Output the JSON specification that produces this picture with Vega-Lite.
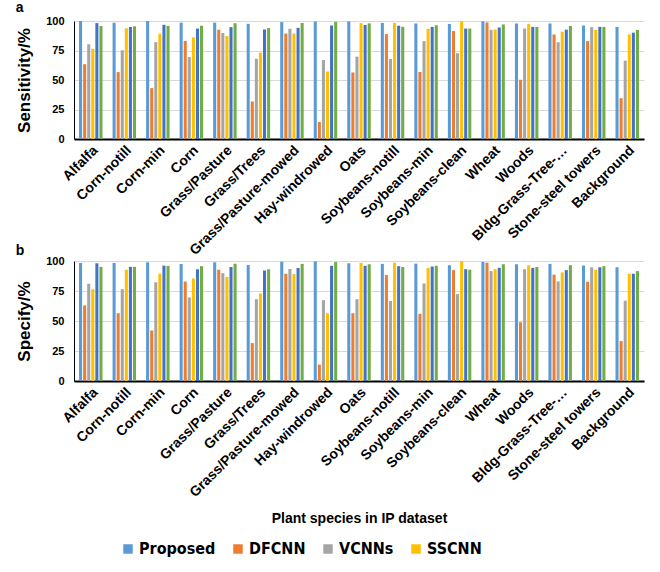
{
  "$schema": "https://vega.github.io/schema/vega-lite/v6.json",
  "padding": {"left": 15, "top": 1, "right": 10, "bottom": 5},
  "background": "white",
  "datasets": {
    "d": [
      {"c": "Alfalfa", "m": "Proposed", "s": 100, "p": 98.4},
      {"c": "Alfalfa", "m": "DFCNN", "s": 63.4, "p": 63},
      {"c": "Alfalfa", "m": "VCNNs", "s": 80.3, "p": 81},
      {"c": "Alfalfa", "m": "SSCNN", "s": 76.4, "p": 76.4},
      {"c": "Alfalfa", "m": "Method5", "s": 98.2, "p": 98.1},
      {"c": "Alfalfa", "m": "Method6", "s": 95.7, "p": 95.1},
      {"c": "Corn-notill", "m": "Proposed", "s": 98.5, "p": 98.4},
      {"c": "Corn-notill", "m": "DFCNN", "s": 56.7, "p": 56.5},
      {"c": "Corn-notill", "m": "VCNNs", "s": 75.2, "p": 76.5},
      {"c": "Corn-notill", "m": "SSCNN", "s": 93.8, "p": 92.7},
      {"c": "Corn-notill", "m": "Method5", "s": 94.9, "p": 95.1},
      {"c": "Corn-notill", "m": "Method6", "s": 95.5, "p": 95.1},
      {"c": "Corn-min", "m": "Proposed", "s": 100, "p": 98.9},
      {"c": "Corn-min", "m": "DFCNN", "s": 43.1, "p": 42.1},
      {"c": "Corn-min", "m": "VCNNs", "s": 82.1, "p": 82.3},
      {"c": "Corn-min", "m": "SSCNN", "s": 89.2, "p": 89.4},
      {"c": "Corn-min", "m": "Method5", "s": 96.8, "p": 96.2},
      {"c": "Corn-min", "m": "Method6", "s": 95.9, "p": 95.9},
      {"c": "Corn", "m": "Proposed", "s": 98.6, "p": 97.5},
      {"c": "Corn", "m": "DFCNN", "s": 83.1, "p": 82.9},
      {"c": "Corn", "m": "VCNNs", "s": 69.4, "p": 69.6},
      {"c": "Corn", "m": "SSCNN", "s": 86.1, "p": 85.4},
      {"c": "Corn", "m": "Method5", "s": 93.6, "p": 93.1},
      {"c": "Corn", "m": "Method6", "s": 96, "p": 95.7},
      {"c": "Grass/Pasture", "m": "Proposed", "s": 98.6, "p": 98.9},
      {"c": "Grass/Pasture", "m": "DFCNN", "s": 92.6, "p": 92.7},
      {"c": "Grass/Pasture", "m": "VCNNs", "s": 89.8, "p": 89.9},
      {"c": "Grass/Pasture", "m": "SSCNN", "s": 87.3, "p": 86.7},
      {"c": "Grass/Pasture", "m": "Method5", "s": 94.8, "p": 95},
      {"c": "Grass/Pasture", "m": "Method6", "s": 98.1, "p": 97.7},
      {"c": "Grass/Trees", "m": "Proposed", "s": 97.6, "p": 96.7},
      {"c": "Grass/Trees", "m": "DFCNN", "s": 31.8, "p": 31.6},
      {"c": "Grass/Trees", "m": "VCNNs", "s": 68, "p": 68.2},
      {"c": "Grass/Trees", "m": "SSCNN", "s": 73.2, "p": 72.9},
      {"c": "Grass/Trees", "m": "Method5", "s": 92.8, "p": 92.1},
      {"c": "Grass/Trees", "m": "Method6", "s": 94, "p": 93.1},
      {"c": "Grass/Pasture-mowed", "m": "Proposed", "s": 99.1, "p": 99.4},
      {"c": "Grass/Pasture-mowed", "m": "DFCNN", "s": 89.4, "p": 89.4},
      {"c": "Grass/Pasture-mowed", "m": "VCNNs", "s": 93.4, "p": 93.4},
      {"c": "Grass/Pasture-mowed", "m": "SSCNN", "s": 89.4, "p": 89.1},
      {"c": "Grass/Pasture-mowed", "m": "Method5", "s": 94.2, "p": 94.2},
      {"c": "Grass/Pasture-mowed", "m": "Method6", "s": 98.3, "p": 97.6},
      {"c": "Hay-windrowed", "m": "Proposed", "s": 99.6, "p": 99.7},
      {"c": "Hay-windrowed", "m": "DFCNN", "s": 14.4, "p": 13.7},
      {"c": "Hay-windrowed", "m": "VCNNs", "s": 66.9, "p": 67.4},
      {"c": "Hay-windrowed", "m": "SSCNN", "s": 57.2, "p": 56.5},
      {"c": "Hay-windrowed", "m": "Method5", "s": 96.2, "p": 96},
      {"c": "Hay-windrowed", "m": "Method6", "s": 99.3, "p": 99.1},
      {"c": "Oats", "m": "Proposed", "s": 99.6, "p": 98.1},
      {"c": "Oats", "m": "DFCNN", "s": 56.4, "p": 56.5},
      {"c": "Oats", "m": "VCNNs", "s": 69.8, "p": 68.2},
      {"c": "Oats", "m": "SSCNN", "s": 98.2, "p": 98.4},
      {"c": "Oats", "m": "Method5", "s": 96.6, "p": 96},
      {"c": "Oats", "m": "Method6", "s": 98, "p": 97.3},
      {"c": "Soybeans-notill", "m": "Proposed", "s": 98.4, "p": 97.6},
      {"c": "Soybeans-notill", "m": "DFCNN", "s": 88.9, "p": 88.3},
      {"c": "Soybeans-notill", "m": "VCNNs", "s": 67.8, "p": 66.7},
      {"c": "Soybeans-notill", "m": "SSCNN", "s": 98.4, "p": 98.6},
      {"c": "Soybeans-notill", "m": "Method5", "s": 96, "p": 95.7},
      {"c": "Soybeans-notill", "m": "Method6", "s": 95.1, "p": 95},
      {"c": "Soybeans-min", "m": "Proposed", "s": 97.9, "p": 97.8},
      {"c": "Soybeans-min", "m": "DFCNN", "s": 56.8, "p": 56},
      {"c": "Soybeans-min", "m": "VCNNs", "s": 83, "p": 81.3},
      {"c": "Soybeans-min", "m": "SSCNN", "s": 93.5, "p": 94.3},
      {"c": "Soybeans-min", "m": "Method5", "s": 95, "p": 95.4},
      {"c": "Soybeans-min", "m": "Method6", "s": 96.4, "p": 96},
      {"c": "Soybeans-clean", "m": "Proposed", "s": 97.5, "p": 96.5},
      {"c": "Soybeans-clean", "m": "DFCNN", "s": 91.5, "p": 92.4},
      {"c": "Soybeans-clean", "m": "VCNNs", "s": 72.7, "p": 72.4},
      {"c": "Soybeans-clean", "m": "SSCNN", "s": 99.8, "p": 100},
      {"c": "Soybeans-clean", "m": "Method5", "s": 93.6, "p": 93.2},
      {"c": "Soybeans-clean", "m": "Method6", "s": 93.6, "p": 92.7},
      {"c": "Wheat", "m": "Proposed", "s": 99.8, "p": 99.2},
      {"c": "Wheat", "m": "DFCNN", "s": 98.8, "p": 98.6},
      {"c": "Wheat", "m": "VCNNs", "s": 92.5, "p": 91.6},
      {"c": "Wheat", "m": "SSCNN", "s": 92.8, "p": 93.2},
      {"c": "Wheat", "m": "Method5", "s": 94.5, "p": 94.3},
      {"c": "Wheat", "m": "Method6", "s": 97.1, "p": 97.3},
      {"c": "Woods", "m": "Proposed", "s": 97.9, "p": 97.3},
      {"c": "Woods", "m": "DFCNN", "s": 50.2, "p": 49},
      {"c": "Woods", "m": "VCNNs", "s": 93.6, "p": 93.2},
      {"c": "Woods", "m": "SSCNN", "s": 97.6, "p": 96.5},
      {"c": "Woods", "m": "Method5", "s": 95, "p": 94.3},
      {"c": "Woods", "m": "Method6", "s": 95, "p": 95},
      {"c": "Bldg-Grass-Tree-…", "m": "Proposed", "s": 97.9, "p": 97.6},
      {"c": "Bldg-Grass-Tree-…", "m": "DFCNN", "s": 88.6, "p": 88.6},
      {"c": "Bldg-Grass-Tree-…", "m": "VCNNs", "s": 82, "p": 83},
      {"c": "Bldg-Grass-Tree-…", "m": "SSCNN", "s": 91, "p": 90.5},
      {"c": "Bldg-Grass-Tree-…", "m": "Method5", "s": 92.7, "p": 92.4},
      {"c": "Bldg-Grass-Tree-…", "m": "Method6", "s": 95.8, "p": 96.5},
      {"c": "Stone-steel towers", "m": "Proposed", "s": 96.2, "p": 96.2},
      {"c": "Stone-steel towers", "m": "DFCNN", "s": 83, "p": 82.7},
      {"c": "Stone-steel towers", "m": "VCNNs", "s": 94.8, "p": 94.8},
      {"c": "Stone-steel towers", "m": "SSCNN", "s": 92.5, "p": 92.7},
      {"c": "Stone-steel towers", "m": "Method5", "s": 95, "p": 94.8},
      {"c": "Stone-steel towers", "m": "Method6", "s": 95, "p": 95.7},
      {"c": "Background", "m": "Proposed", "s": 95, "p": 94.8},
      {"c": "Background", "m": "DFCNN", "s": 34.6, "p": 33.3},
      {"c": "Background", "m": "VCNNs", "s": 66.4, "p": 67},
      {"c": "Background", "m": "SSCNN", "s": 88.6, "p": 89.4},
      {"c": "Background", "m": "Method5", "s": 90.1, "p": 89.4},
      {"c": "Background", "m": "Method6", "s": 92.4, "p": 91.6}
    ]
  },
  "data": {"name": "d"},
  "spacing": -14,
  "vconcat": [
    {
      "width": 570,
      "height": 118,
      "title": {"text": "a", "anchor": "start", "frame": "bounds", "fontSize": 14, "fontWeight": "bold", "offset": 0},
      "mark": {"type": "bar"},
      "encoding": {
        "x": {"field": "c", "type": "nominal", "sort": null, "scale": {"paddingInner": 0.3, "paddingOuter": 0.15},
              "axis": {"title": null}},
        "xOffset": {"field": "m", "type": "nominal", "sort": ["Proposed", "DFCNN", "VCNNs", "SSCNN", "Method5", "Method6"], "scale": {"paddingInner": 0.25}},
        "y": {"field": "s", "type": "quantitative", "scale": {"domain": [0, 100]},
              "axis": {"values": [0, 25, 50, 75, 100], "title": "Sensitivity/%"}},
        "color": {"field": "m", "type": "nominal",
                  "scale": {"domain": ["Proposed", "DFCNN", "VCNNs", "SSCNN", "Method5", "Method6"], "range": ["#5B9BD5", "#ED7D31", "#A5A5A5", "#FFC000", "#4472C4", "#70AD47"]},
                  "legend": {"values": ["Proposed", "DFCNN", "VCNNs", "SSCNN"]}}
      }
    },
    {
      "width": 570,
      "height": 120,
      "title": {"text": "b", "anchor": "start", "frame": "bounds", "fontSize": 14, "fontWeight": "bold", "offset": -3},
      "mark": {"type": "bar"},
      "encoding": {
        "x": {"field": "c", "type": "nominal", "sort": null, "scale": {"paddingInner": 0.3, "paddingOuter": 0.15},
              "axis": {"title": "Plant species in IP dataset", "titleFontSize": 14, "titlePadding": 12}},
        "xOffset": {"field": "m", "type": "nominal", "sort": ["Proposed", "DFCNN", "VCNNs", "SSCNN", "Method5", "Method6"], "scale": {"paddingInner": 0.25}},
        "y": {"field": "p", "type": "quantitative", "scale": {"domain": [0, 100]},
              "axis": {"values": [0, 25, 50, 75, 100], "title": "Specify/%"}},
        "color": {"field": "m", "type": "nominal",
                  "scale": {"domain": ["Proposed", "DFCNN", "VCNNs", "SSCNN", "Method5", "Method6"], "range": ["#5B9BD5", "#ED7D31", "#A5A5A5", "#FFC000", "#4472C4", "#70AD47"]},
                  "legend": {"values": ["Proposed", "DFCNN", "VCNNs", "SSCNN"]}}
      }
    }
  ],
  "resolve": {"scale": {"x": "independent", "y": "independent"}},
  "config": {
    "font": "Liberation Sans",
    "view": {"stroke": null},
    "axis": {
      "labelFont": "Liberation Sans",
      "labelFontWeight": "bold",
      "labelColor": "#000",
      "titleFont": "Liberation Sans",
      "titleFontWeight": "bold",
      "titleColor": "#000",
      "ticks": false,
      "domainColor": "#000"
    },
    "axisX": {
      "labelAngle": -45,
      "labelFontSize": 14,
      "labelPadding": 4,
      "domainWidth": 2,
      "grid": false
    },
    "axisY": {
      "labelFontSize": 11,
      "labelPadding": 10,
      "titleFontSize": 17,
      "titlePadding": 12,
      "domainWidth": 1,
      "grid": true,
      "gridColor": "#d9d9d9",
      "gridWidth": 1
    },
    "legend": {
      "orient": "none",
      "legendX": 46,
      "legendY": 520,
      "direction": "horizontal",
      "title": null,
      "labelFont": "DejaVu Sans Condensed, Liberation Sans",
      "labelFontSize": 16,
      "labelFontWeight": "bold",
      "labelColor": "#000",
      "symbolType": "square",
      "symbolSize": 90,
      "symbolStrokeWidth": 0,
      "columnPadding": 14,
      "labelOffset": 3
    }
  }
}
